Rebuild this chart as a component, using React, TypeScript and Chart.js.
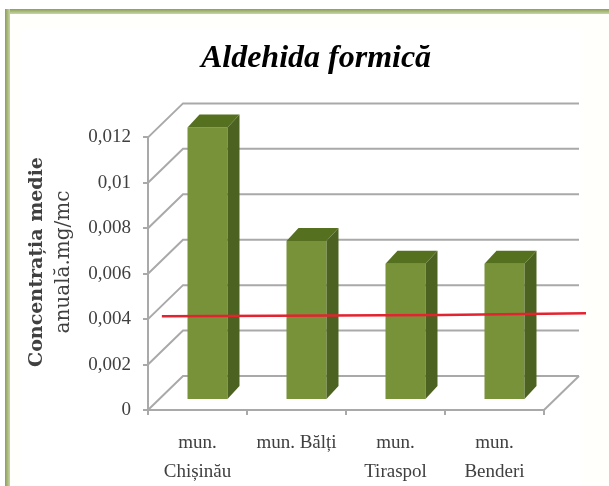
import React, { useEffect, useRef } from "react";
import { Chart, registerables } from "chart.js";

Chart.register(...registerables);

const chartTitle = "Aldehida formică";
const categories = [["mun.", "Chișinău"], ["mun. Bălți"], ["mun.", "Tiraspol"], ["mun.", "Benderi"]];
const concentrations = [0.012, 0.007, 0.006, 0.006];
const yTickValues = [0, 0.002, 0.004, 0.006, 0.008, 0.01, 0.012];
const yTickLabels = ["0", "0,002", "0,004", "0,006", "0,008", "0,01", "0,012"];
const yTitleLines = ["Concentrația medie", "anuală.mg/mc"];
const limitX = [0.035, 0.74, 1.106];
const limitY = [0.00413, 0.00418, 0.00426];

const GRID = "#a9a9a9";
const WALL = { dx: 35, dy: -34 };
const BAR_SHIFT = { dx: 10, dy: -10 };
const BAR_DEPTH = { dx: 12, dy: -13 };

const poly = (ctx: CanvasRenderingContext2D, pts: number[][], fill: string) => {
  ctx.beginPath();
  pts.forEach(([x, y], i) => (i ? ctx.lineTo(x, y) : ctx.moveTo(x, y)));
  ctx.closePath();
  ctx.fillStyle = fill;
  ctx.fill();
};

const box3d = {
  id: "box3d",
  beforeDatasetsDraw(chart: any) {
    const { ctx, scales } = chart;
    const { x: xs, y: ys } = scales;
    const l = xs.left, r = xs.right;
    ctx.save();
    ctx.strokeStyle = GRID;
    ctx.lineWidth = 2;
    yTickValues.forEach((v) => {
      const p = ys.getPixelForValue(v);
      ctx.beginPath();
      ctx.moveTo(l, p);
      ctx.lineTo(l + WALL.dx, p + WALL.dy);
      ctx.lineTo(r + WALL.dx, p + WALL.dy);
      ctx.stroke();
    });
    const b = ys.getPixelForValue(0);
    ctx.beginPath();
    ctx.moveTo(r, b);
    ctx.lineTo(r + WALL.dx, b + WALL.dy);
    ctx.stroke();
    ctx.restore();
  },
  beforeDatasetDraw(chart: any, args: any) {
    if (args.meta.type !== "bar") return;
    chart.ctx.save();
    chart.ctx.translate(BAR_SHIFT.dx, BAR_SHIFT.dy);
  },
  afterDatasetDraw(chart: any, args: any) {
    if (args.meta.type !== "bar") return;
    const ctx = chart.ctx;
    args.meta.data.forEach((el: any) => {
      const left = el.x - el.width / 2;
      const right = el.x + el.width / 2;
      const { dx, dy } = BAR_DEPTH;
      poly(ctx, [[right, el.y], [right + dx, el.y + dy], [right + dx, el.base + dy], [right, el.base]], "#4c6220");
      poly(ctx, [[left, el.y], [left + dx, el.y + dy], [right + dx, el.y + dy], [right, el.y]], "#55701f");
    });
    ctx.restore();
  },
  afterDraw(chart: any) {
    const { ctx } = chart;
    const mid = 262;
    const fonts = ["bold 19px 'DejaVu Serif'", "20px 'DejaVu Serif'"];
    ctx.save();
    ctx.fillStyle = "#404040";
    ctx.textAlign = "center";
    ctx.textBaseline = "middle";
    [37, 64].forEach((x, i) => {
      ctx.save();
      ctx.font = fonts[i];
      ctx.translate(x, mid);
      ctx.rotate(-Math.PI / 2);
      ctx.fillText(yTitleLines[i], 0, 0);
      ctx.restore();
    });
    ctx.restore();
  },
};

export default function App() {
  const ref = useRef<HTMLCanvasElement>(null);
  useEffect(() => {
    const chart = new Chart(ref.current as HTMLCanvasElement, {
      type: "bar",
      data: {
        labels: categories as any,
        datasets: [
          {
            type: "bar",
            label: "Aldehida formică",
            data: concentrations,
            backgroundColor: "#78923a",
            grouped: false,
            barPercentage: 1,
            categoryPercentage: 0.404,
            clip: false,
            order: 1,
          } as any,
          {
            type: "line",
            label: "limit",
            data: limitX.map((x, i) => ({ x, y: limitY[i] })),
            xAxisID: "x2",
            borderColor: "#e3232f",
            borderWidth: 2.5,
            pointRadius: 0,
            tension: 0,
            clip: false,
            order: 0,
          } as any,
        ],
      },
      options: {
        responsive: false,
        animation: false,
        layout: { padding: { top: 40, left: 30, right: 7, bottom: 0 } },
        plugins: {
          legend: { display: false },
          tooltip: { enabled: false },
          title: {
            display: true,
            text: chartTitle,
            color: "#000000",
            font: { family: "'Liberation Serif'", size: 32, weight: "bold", style: "italic" },
            padding: { top: 0, bottom: 59 },
          },
        },
        scales: {
          x: {
            afterFit: (s: any) => { s.height = 76; },
            grid: { drawOnChartArea: false, drawTicks: true, tickLength: 5, color: GRID, lineWidth: 2 },
            border: { color: GRID, width: 2 },
            ticks: {
              maxRotation: 0,
              autoSkip: false,
              padding: 13,
              color: "#404040",
              font: { family: "'Liberation Serif'", size: 19, lineHeight: 1.55 },
            },
          },
          x2: { type: "linear", min: 0, max: 1, display: false, offset: false },
          y: {
            min: 0,
            max: 0.012,
            afterFit: (s: any) => { s.width = 118; },
            afterBuildTicks: (s: any) => { s.ticks = yTickValues.map((value) => ({ value })); },
            grid: { drawOnChartArea: false, drawTicks: true, tickLength: 5, color: GRID, lineWidth: 2 },
            border: { color: GRID, width: 2 },
            ticks: {
              padding: 12,
              color: "#404040",
              font: { family: "'Liberation Serif'", size: 19 },
              callback: (v: any) => yTickLabels[yTickValues.indexOf(v)],
            },
          },
          yRightGap: {
            position: "right",
            afterFit: (s: any) => { s.width = 58; },
            grid: { display: false },
            border: { display: false },
            ticks: { display: false },
          },
        },
      } as any,
      plugins: [box3d],
    });
    return () => chart.destroy();
  }, []);

  return (
    <div style={{ position: "fixed", left: 0, top: 0, width: 609, height: 486, overflow: "hidden", background: "#ffffff" }}>
      <div style={{ position: "absolute", left: 5, top: 9, width: 604, height: 477, background: "#fffffb" }} />
      <div style={{ position: "absolute", left: 5, top: 9, width: 604, height: 5, background: "linear-gradient(#8a9f52,#c9d4a8)" }} />
      <div style={{ position: "absolute", left: 5, top: 9, width: 5, height: 477, background: "linear-gradient(90deg,#8a9f52,#c9d4a8)" }} />
      <div style={{ position: "absolute", left: 22, top: 30, width: 560, height: 456, background: "#ffffff" }} />
      <canvas ref={ref} width={609} height={486} style={{ position: "absolute", left: 0, top: 0, display: "block" }} />
    </div>
  );
}
